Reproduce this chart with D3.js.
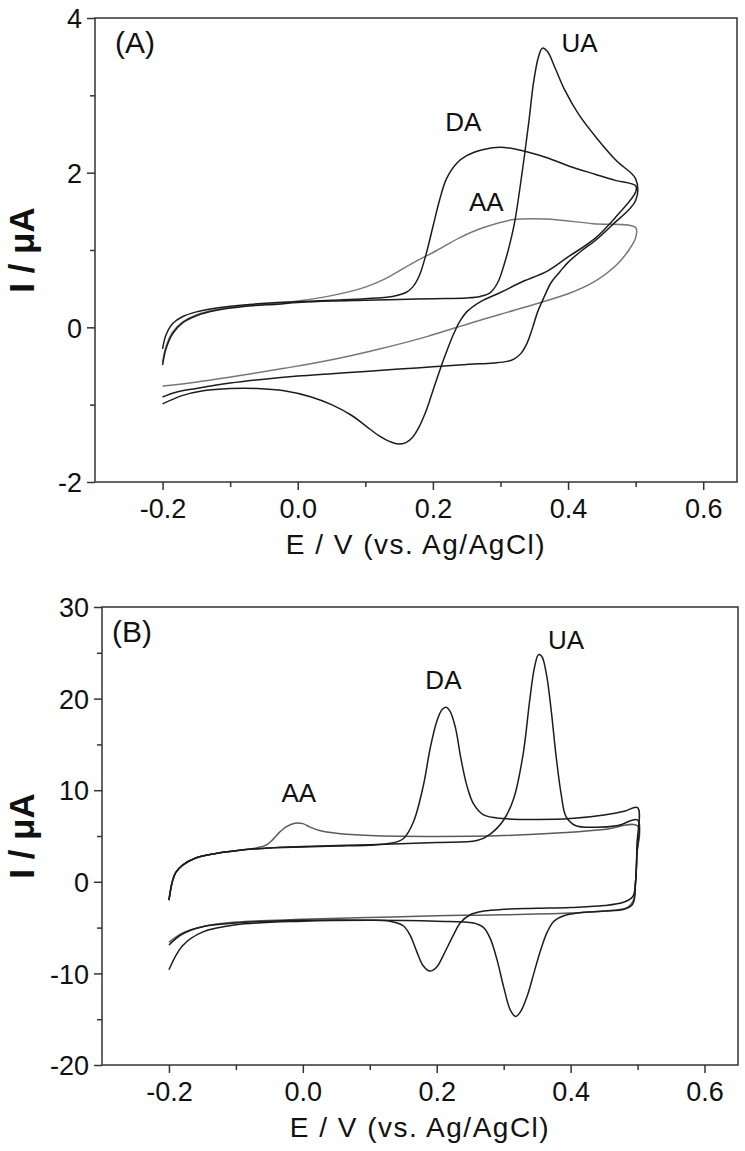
<!DOCTYPE html>
<html>
<head>
<meta charset="utf-8">
<script src="https://cdn.jsdelivr.net/npm/d3@7"></script>
<style>
  html, body { margin: 0; padding: 0; background: #fff; }
  svg { display: block; }
  text { font-family: "Liberation Sans", Arial, Helvetica, sans-serif; fill: #111; }
</style>
</head>
<body>
<div id="chart"></div>
<script>
// Panel (A): CV, E / V vs I / uA  ([E, I] pairs, forward then reverse scan)
const aAA = [[-0.2,-0.45],[-0.195,-0.25],[-0.185,-0.06],[-0.17,0.07],[-0.15,0.16],[-0.12,0.23],[-0.08,0.28],[-0.03,0.31],[0.0,0.34],[0.05,0.41],[0.1,0.52],[0.13,0.63],[0.17,0.83],[0.205,0.99],[0.24,1.16],[0.275,1.29],[0.317,1.39],[0.367,1.40],[0.437,1.34],[0.5,1.29],
  [0.5,1.16],[0.49,1.0],[0.472,0.81],[0.437,0.58],[0.402,0.44],[0.332,0.25],[0.261,0.07],[0.191,-0.12],[0.121,-0.28],[0.05,-0.42],[-0.02,-0.53],[-0.09,-0.63],[-0.16,-0.72],[-0.2,-0.76]];
const aDA = [[-0.2,-0.28],[-0.195,-0.1],[-0.185,0.05],[-0.17,0.14],[-0.15,0.2],[-0.12,0.25],[-0.08,0.29],[-0.03,0.32],[0.0,0.33],[0.05,0.35],[0.1,0.37],[0.14,0.40],[0.16,0.45],[0.17,0.52],[0.18,0.67],[0.19,0.95],[0.2,1.3],[0.21,1.65],[0.22,1.92],[0.235,2.12],[0.25,2.22],[0.275,2.30],[0.3,2.33],[0.33,2.29],[0.37,2.19],[0.4,2.09],[0.44,1.98],[0.47,1.9],[0.5,1.83],
  [0.5,1.75],[0.47,1.42],[0.44,1.15],[0.4,0.91],[0.37,0.73],[0.33,0.58],[0.3,0.45],[0.27,0.33],[0.25,0.2],[0.24,0.08],[0.23,-0.1],[0.22,-0.32],[0.21,-0.56],[0.2,-0.82],[0.19,-1.08],[0.18,-1.28],[0.17,-1.42],[0.16,-1.49],[0.15,-1.51],[0.14,-1.49],[0.12,-1.40],[0.1,-1.27],[0.08,-1.14],[0.05,-1.0],[0.02,-0.9],[-0.02,-0.82],[-0.06,-0.79],[-0.1,-0.79],[-0.14,-0.82],[-0.17,-0.88],[-0.2,-0.99]];
const aUA = [[-0.2,-0.49],[-0.195,-0.28],[-0.185,-0.08],[-0.17,0.06],[-0.15,0.15],[-0.12,0.22],[-0.08,0.27],[-0.03,0.30],[0.0,0.32],[0.05,0.34],[0.1,0.35],[0.15,0.36],[0.2,0.37],[0.25,0.38],[0.27,0.40],[0.285,0.45],[0.296,0.58],[0.305,0.80],[0.313,1.05],[0.321,1.36],[0.332,2.0],[0.342,2.66],[0.349,3.17],[0.356,3.49],[0.362,3.61],[0.37,3.56],[0.381,3.35],[0.395,3.07],[0.416,2.75],[0.444,2.43],[0.472,2.15],[0.5,1.92],
  [0.5,1.64],[0.465,1.32],[0.44,1.12],[0.42,0.99],[0.4,0.84],[0.388,0.72],[0.375,0.58],[0.365,0.40],[0.355,0.2],[0.347,-0.02],[0.339,-0.21],[0.33,-0.34],[0.32,-0.41],[0.31,-0.44],[0.29,-0.46],[0.25,-0.48],[0.2,-0.51],[0.15,-0.54],[0.1,-0.57],[0.05,-0.6],[0.0,-0.63],[-0.05,-0.67],[-0.1,-0.72],[-0.15,-0.79],[-0.18,-0.84],[-0.2,-0.9]];

// Panel (B)
const bAA = [[-0.2,-2.0],[-0.195,0.0],[-0.19,1.0],[-0.18,1.8],[-0.16,2.6],[-0.13,3.1],[-0.1,3.4],[-0.07,3.7],[-0.055,4.0],[-0.045,4.6],[-0.035,5.4],[-0.025,6.0],[-0.012,6.4],[0.0,6.35],[0.01,6.0],[0.025,5.6],[0.05,5.3],[0.1,5.05],[0.2,4.95],[0.3,5.05],[0.4,5.4],[0.45,5.7],[0.5,6.1],
  [0.499,3.0],[0.497,0.0],[0.494,-2.0],[0.485,-2.8],[0.45,-3.2],[0.4,-3.4],[0.3,-3.6],[0.2,-3.7],[0.1,-3.9],[0.0,-4.1],[-0.1,-4.4],[-0.15,-4.9],[-0.18,-5.6],[-0.2,-6.6]];
const bDA = [[-0.2,-2.0],[-0.195,0.0],[-0.19,1.0],[-0.18,1.8],[-0.16,2.6],[-0.13,3.1],[-0.1,3.4],[-0.05,3.7],[0.0,3.8],[0.05,3.9],[0.1,4.0],[0.13,4.2],[0.15,4.7],[0.165,6.5],[0.18,10.5],[0.19,14.5],[0.2,17.5],[0.208,18.8],[0.214,19.05],[0.22,18.6],[0.228,16.8],[0.236,13.5],[0.245,10.5],[0.255,8.5],[0.27,7.3],[0.3,6.9],[0.35,6.8],[0.4,6.9],[0.45,7.3],[0.48,7.7],[0.5,8.1],
  [0.499,4.0],[0.497,0.0],[0.493,-1.6],[0.48,-2.2],[0.45,-2.6],[0.4,-2.8],[0.35,-2.9],[0.3,-3.0],[0.27,-3.2],[0.25,-3.6],[0.235,-4.5],[0.225,-5.8],[0.21,-8.0],[0.2,-9.3],[0.19,-9.75],[0.18,-9.2],[0.17,-7.6],[0.16,-5.8],[0.15,-4.8],[0.13,-4.3],[0.1,-4.2],[0.0,-4.2],[-0.1,-4.5],[-0.15,-4.9],[-0.18,-5.7],[-0.2,-6.9]];
const bUA = [[-0.2,-2.0],[-0.195,0.0],[-0.19,1.0],[-0.18,1.8],[-0.16,2.6],[-0.13,3.1],[-0.1,3.4],[-0.05,3.7],[0.0,3.85],[0.1,4.05],[0.2,4.3],[0.26,4.5],[0.279,5.16],[0.3,6.75],[0.315,9.1],[0.329,13.9],[0.339,19.9],[0.346,23.4],[0.352,24.8],[0.357,24.6],[0.364,22.6],[0.371,18.7],[0.378,13.9],[0.386,9.5],[0.393,7.15],[0.407,6.15],[0.435,5.95],[0.471,6.15],[0.5,6.75],
  [0.499,3.0],[0.497,0.0],[0.493,-2.4],[0.48,-3.0],[0.45,-3.2],[0.41,-3.4],[0.39,-3.7],[0.375,-4.3],[0.365,-5.5],[0.355,-7.5],[0.345,-10.0],[0.335,-12.5],[0.325,-14.2],[0.318,-14.7],[0.31,-14.0],[0.3,-11.5],[0.29,-8.5],[0.28,-6.2],[0.27,-5.0],[0.255,-4.5],[0.2,-4.3],[0.1,-4.2],[0.0,-4.3],[-0.1,-4.7],[-0.15,-5.5],[-0.18,-7.0],[-0.2,-9.6]];

const xTicks = [-0.2, 0.0, 0.2, 0.4, 0.6];
const xMinor = [-0.1, 0.1, 0.3, 0.5];
const aYTicks = [-2, 0, 2, 4];
const aYMinor = [-1, 1, 3];
const bYTicks = [-20, -10, 0, 10, 20, 30];
const bYMinor = [-15, -5, 5, 15, 25];

const W = 745, H = 1151;
const svg = d3.select("#chart").append("svg")
  .attr("width", W).attr("height", H);

const dark = "#1c1c1c";

function fmt(v, dec) {
  let s = Math.abs(v).toFixed(dec);
  return (v < 0 ? "-" : "") + s;
}

function panel(p) {
  const x = d3.scaleLinear().domain([-0.3, 0.65]).range([p.left, p.right]);
  const y = d3.scaleLinear().domain(p.yDomain).range([p.bottom, p.top]);
  const g = svg.append("g");

  // frame
  g.append("rect")
    .attr("x", p.left).attr("y", p.top)
    .attr("width", p.right - p.left).attr("height", p.bottom - p.top)
    .attr("fill", "none").attr("stroke", "#333").attr("stroke-width", 1.5);

  // axes
  g.append("g").attr("transform", `translate(0,${p.bottom})`)
    .call(d3.axisBottom(x).tickValues(xTicks).tickSize(8).tickPadding(9)
      .tickFormat(d => fmt(d, 1)));
  g.append("g").attr("transform", `translate(0,${p.bottom})`)
    .call(d3.axisBottom(x).tickValues(xMinor).tickSize(5).tickFormat(""));
  const ya = g.append("g").attr("transform", `translate(${p.left},0)`)
    .call(d3.axisLeft(y).tickValues(p.yTicks).tickSize(8).tickPadding(5)
      .tickFormat(d => fmt(d, 0)));
  g.append("g").attr("transform", `translate(${p.left},0)`)
    .call(d3.axisLeft(y).tickValues(p.yMinor).tickSize(5).tickFormat(""));

  g.selectAll(".domain").remove();
  g.selectAll(".tick line").attr("stroke", "#333").attr("stroke-width", 1.5);
  g.selectAll(".tick text").attr("font-size", 27).attr("fill", "#111")
    .attr("font-family", "'Liberation Sans', Arial, sans-serif");
  ya.selectAll(".tick text").attr("dy", "0.36em");

  // curves
  const line = d3.line()
    .x(d => x(d[0])).y(d => y(d[1]))
    .curve(d3.curveCatmullRom.alpha(0.5));
  p.series.forEach(s => {
    g.append("path").datum(s.data)
      .attr("d", line)
      .attr("fill", "none")
      .attr("stroke", s.color)
      .attr("stroke-width", 1.5)
      .attr("stroke-linejoin", "round");
  });

  // labels
  p.labels.forEach(l => {
    g.append("text")
      .attr("x", x(l.e)).attr("y", y(l.i))
      .attr("text-anchor", "middle")
      .attr("font-size", 26)
      .text(l.t);
  });

  g.append("text")
    .attr("x", p.left + p.tagDx).attr("y", p.top + 35)
    .attr("font-size", 30)
    .text(p.tag);

  g.append("text")
    .attr("x", (p.left + p.right) / 2).attr("y", p.bottom + 72)
    .attr("text-anchor", "middle")
    .attr("font-size", 28)
    .attr("letter-spacing", 1.5)
    .text("E / V (vs. Ag/AgCl)");

  g.append("text")
    .attr("transform", `translate(34,${(p.top + p.bottom) / 2}) rotate(-90)`)
    .attr("text-anchor", "middle")
    .attr("font-size", 35)
    .attr("font-weight", "bold")
    .text("I / \u03bcA");
}

panel({
  left: 95, right: 737, top: 18, bottom: 482,
  yDomain: [-2, 4], yTicks: aYTicks, yMinor: aYMinor,
  tag: "(A)", tagDx: 20,
  series: [
    { data: aAA, color: "#777" },
    { data: aDA, color: dark },
    { data: aUA, color: dark }
  ],
  labels: [
    { t: "UA", e: 0.417, i: 3.56 },
    { t: "DA", e: 0.245, i: 2.54 },
    { t: "AA", e: 0.279, i: 1.50 }
  ]
});

panel({
  left: 102, right: 738, top: 607, bottom: 1065,
  yDomain: [-20, 30], yTicks: bYTicks, yMinor: bYMinor,
  tag: "(B)", tagDx: 10,
  series: [
    { data: bAA, color: "#5a5a5a" },
    { data: bDA, color: dark },
    { data: bUA, color: dark }
  ],
  labels: [
    { t: "UA", e: 0.393, i: 25.4 },
    { t: "DA", e: 0.21, i: 21.1 },
    { t: "AA", e: -0.006, i: 8.7 }
  ]
});
</script>
</body>
</html>
